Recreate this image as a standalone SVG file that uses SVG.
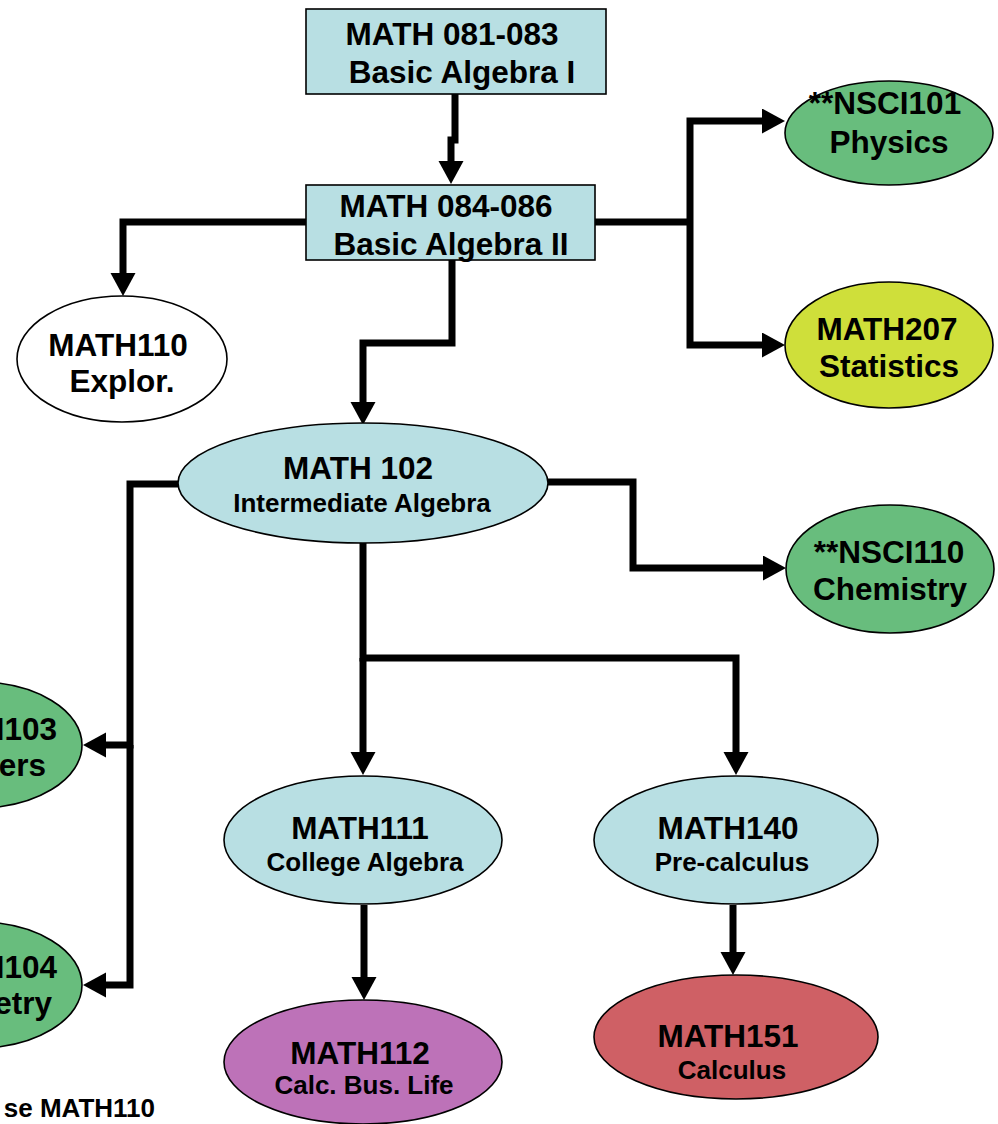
<svg xmlns="http://www.w3.org/2000/svg" width="998" height="1124" viewBox="0 0 998 1124">
<style>
.n{stroke:#000;stroke-width:1.6}
.blue{fill:#b8dfe3}
.green{fill:#68bd7d}
.yellow{fill:#cfdf3a}
.purple{fill:#bd72b8}
.red{fill:#cf6065}
.white{fill:#fff}
text{font-family:"Liberation Sans",Arial,sans-serif;font-weight:bold;fill:#000;text-anchor:middle}
.t{font-size:31.5px}
.s{font-size:26px}
.c path{fill:none;stroke:#000;stroke-width:7;stroke-linejoin:miter}
</style>
<defs>
<marker id="ah" markerUnits="userSpaceOnUse" markerWidth="24" markerHeight="26" refX="1" refY="12.5" orient="auto">
<path d="M0,0 L23,12.5 L0,25 z" fill="#000"/>
</marker>
</defs>
<rect width="998" height="1124" fill="#fff"/>
<g class="c" id="connectors">
<path d="M455,94 V140 H451 V162" marker-end="url(#ah)"/>
<path d="M306,222 H123 V274" marker-end="url(#ah)"/>
<path d="M595,222 H690"/>
<path d="M690,222 V121 H763" marker-end="url(#ah)"/>
<path d="M690,222 V345 H763" marker-end="url(#ah)"/>
<path d="M452,260 V343 H363 V403" marker-end="url(#ah)"/>
<path d="M179,484 H130 V745 H105" marker-end="url(#ah)"/>
<path d="M130,745 V985 H105" marker-end="url(#ah)"/>
<path d="M548,482 H633 V568 H764" marker-end="url(#ah)"/>
<path d="M363,543 V658 H736 V753" marker-end="url(#ah)"/>
<path d="M363,658 V753" marker-end="url(#ah)"/>
<path d="M364,905 V978" marker-end="url(#ah)"/>
<path d="M733,905 V953" marker-end="url(#ah)"/>
</g>
<g id="math081">
<rect x="306" y="9" width="300" height="85" class="n blue"/>
<text x="452" y="45" class="t">MATH 081-083</text>
<text x="462" y="83" class="t">Basic Algebra I</text>
</g>
<g id="math084">
<rect x="306" y="185" width="289" height="75" class="n blue"/>
<text x="446" y="217" class="t">MATH 084-086</text>
<text x="451" y="255" class="t">Basic Algebra II</text>
</g>
<g id="math110">
<ellipse cx="122" cy="359" rx="105" ry="63" class="n white"/>
<text x="118" y="356" class="t">MATH110</text>
<text x="122" y="392" class="t">Explor.</text>
</g>
<g id="nsci101">
<ellipse cx="889" cy="133" rx="104" ry="52" class="n green"/>
<text x="885" y="114" class="t">**NSCI101</text>
<text x="889" y="153" class="t">Physics</text>
</g>
<g id="math207">
<ellipse cx="889" cy="345" rx="104" ry="63" class="n yellow"/>
<text x="887" y="340" class="t">MATH207</text>
<text x="889" y="377" class="t">Statistics</text>
</g>
<g id="math102">
<ellipse cx="363" cy="483" rx="185" ry="60" class="n blue"/>
<text x="358" y="479" class="t">MATH 102</text>
<text x="362" y="512" class="s">Intermediate Algebra</text>
</g>
<g id="nsci110">
<ellipse cx="890" cy="569" rx="104" ry="64" class="n green"/>
<text x="889" y="563" class="t">**NSCI110</text>
<text x="890" y="600" class="t">Chemistry</text>
</g>
<g id="math103">
<ellipse cx="-22" cy="745" rx="104" ry="63" class="n green"/>
<text x="57" y="740" class="t" style="text-anchor:end">MATH103</text>
<text x="46" y="776" class="t" style="text-anchor:end">ers</text>
</g>
<g id="math104">
<ellipse cx="-22" cy="985" rx="104" ry="63" class="n green"/>
<text x="57" y="978" class="t" style="text-anchor:end">MATH104</text>
<text x="52" y="1014" class="t" style="text-anchor:end">etry</text>
</g>
<g id="math111">
<ellipse cx="363" cy="840" rx="139" ry="64" class="n blue"/>
<text x="360" y="839" class="t">MATH111</text>
<text x="365" y="871" class="s">College Algebra</text>
</g>
<g id="math140">
<ellipse cx="736" cy="840" rx="142" ry="64" class="n blue"/>
<text x="728" y="839" class="t">MATH140</text>
<text x="732" y="871" class="s">Pre-calculus</text>
</g>
<g id="math112">
<ellipse cx="363" cy="1062" rx="139" ry="62" class="n purple"/>
<text x="360" y="1064" class="t">MATH112</text>
<text x="364" y="1094" class="s">Calc. Bus. Life</text>
</g>
<g id="math151">
<ellipse cx="736" cy="1037" rx="142" ry="62" class="n red"/>
<text x="728" y="1047" class="t">MATH151</text>
<text x="732" y="1079" class="s">Calculus</text>
</g>
<text x="155" y="1117" style="text-anchor:end;font-size:26px">se MATH110</text>
</svg>
